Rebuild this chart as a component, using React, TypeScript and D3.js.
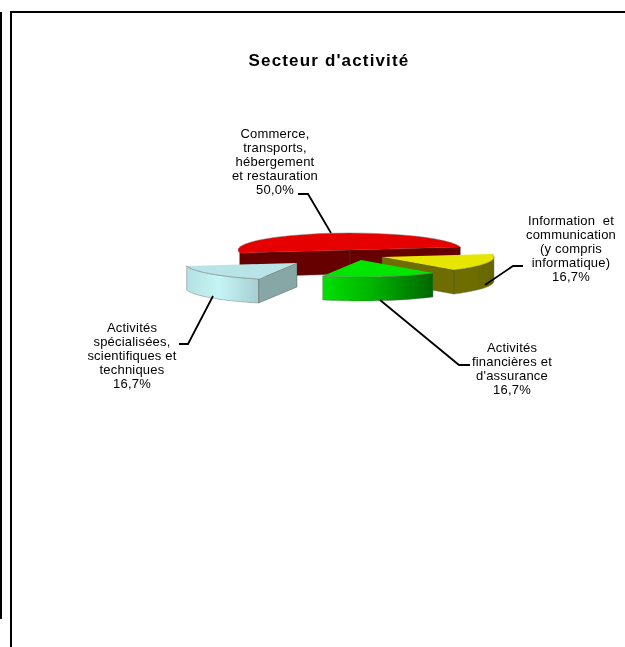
import React from "react";
import * as d3 from "d3";

const categories = ["Commerce, transports, hébergement et restauration", "Information et communication (y compris informatique)", "Activités financières et d'assurance", "Activités spécialisées, scientifiques et techniques"];
const values = [50.0, 16.67, 16.67, 16.67];
const labelLines = [
  ["Commerce,", "transports,", "hébergement", "et restauration", "50,0%"],
  ["Information  et", "communication", "(y compris", "informatique)", "16,7%"],
  ["Activités", "financières et", "d'assurance", "16,7%"],
  ["Activités", "spécialisées,", "scientifiques et", "techniques", "16,7%"],
];
const labelAnchors = [[275, 138], [571, 225], [512, 352], [132, 332]];
const topColours = ["#e60000", "#e6e600", "#00e600", "#b8e4e8"];
const cutColours = ["#660000", "#6e6e00", "#006a00", "#87a6a6"];
const wallStops = [
  ["#660000", "#660000", "#660000"],
  ["#6e6e00", "#6e6e00", "#666600"],
  ["#00e000", "#00b400", "#006600"],
  ["#b4e0e2", "#c6f5f5", "#a6ced2"],
];
const apexes = [[350, 250], [382, 257], [361, 260], [297, 263]];
const leaders = [
  [[298, 194], [308, 194], [331, 233]],
  [[485, 285], [513, 266], [523, 266]],
  [[380, 300], [459, 365], [470, 365]],
  [[213, 296], [188, 344], [179, 344]],
];

const RX = 112, RY = 17, DEPTH = 24;
const START = (80 * Math.PI) / 180;

const pie = d3.pie<number>().sort(null).startAngle(START).endAngle(START + 2 * Math.PI);
const order = [1, 2, 3, 0];
const arcsRaw = pie(order.map((i) => values[i]));
const slices = order.map((idx, k) => ({ idx, start: arcsRaw[k].startAngle, end: arcsRaw[k].endAngle }));

function pt(a: number, apex: number[], dy = 0): [number, number] {
  return [apex[0] + RX * Math.sin(a), apex[1] - RY * Math.cos(a) + dy];
}
const line = d3.line();
const angleSteps = (s: number, e: number) => d3.range(0, 25).map((i) => s + ((e - s) * i) / 24);

export default function App() {
  const arc = d3.arc();
  const paint = [0, 1, 2, 3].map((i) => slices.find((s) => s.idx === i)!);
  return (
    <svg width={625} height={647} style={{ position: "absolute", left: 0, top: 0 }} fontFamily="'Liberation Sans', Arial, sans-serif">
      <defs>
        <filter id="soft" x="-5%" y="-5%" width="110%" height="110%">
          <feGaussianBlur stdDeviation="0.45" />
        </filter>
        <filter id="softText" x="-5%" y="-5%" width="110%" height="110%">
          <feGaussianBlur stdDeviation="0.3" />
        </filter>
        {wallStops.map((st, i) => (
          <linearGradient key={i} id={`wall${i}`} x1="0" x2="1" y1="0" y2="0">
            <stop offset="0" stopColor={st[0]} />
            <stop offset="0.45" stopColor={st[1]} />
            <stop offset="1" stopColor={st[2]} />
          </linearGradient>
        ))}
      </defs>
      <rect x={0} y={12} width={2} height={607} fill="#000" />
      <rect x={10} y={11} width={2} height={636} fill="#000" />
      <rect x={10} y={11} width={615} height={2} fill="#000" />
      <text x={329} y={66} textAnchor="middle" fontSize={17} fontWeight="bold" letterSpacing={1.15} filter="url(#softText)">Secteur d'activité</text>

      <g filter="url(#soft)">
        {paint.map((s) => {
          const apex = apexes[s.idx];
          const a0 = s.start, a1 = s.end;
          const outerTop = angleSteps(a0, a1).map((a) => pt(a, apex));
          const visible = angleSteps(Math.max(a0, Math.PI / 2), Math.min(a1, (3 * Math.PI) / 2));
          const wall = [...visible.map((a) => pt(a, apex)), ...visible.slice().reverse().map((a) => pt(a, apex, DEPTH))];
          const cut = (a: number) => {
            const p = pt(a, apex);
            return [apex, p, [p[0], p[1] + DEPTH], [apex[0], apex[1] + DEPTH]] as [number, number][];
          };
          const showStart = Math.cos(a0 - Math.PI / 2) < 0;
          const showEnd = Math.cos(a1 + Math.PI / 2) < 0;
          const top = arc({ innerRadius: 0, outerRadius: RX, startAngle: a0, endAngle: a1 } as any);
          return (
            <g key={s.idx}>
              {s.idx !== 0 && <path d={line(wall as [number, number][])! + "Z"} fill={`url(#wall${s.idx})`} stroke="#666" strokeWidth={0.4} />}
              {showStart && <path d={line(cut(a0))! + "Z"} fill={cutColours[s.idx]} stroke="#444" strokeWidth={0.4} />}
              {showEnd && <path d={line(cut(a1))! + "Z"} fill={cutColours[s.idx]} stroke="#444" strokeWidth={0.4} />}
              <g transform={`translate(${apex[0]},${apex[1]}) scale(1,${RY / RX})`}>
                <path d={top!} fill={topColours[s.idx]} />
              </g>
              <path d={line(outerTop)!} fill="none" stroke="#777" strokeWidth={0.5} />
            </g>
          );
        })}
      </g>

      {leaders.map((l, i) => (
        <path key={i} d={line(l as [number, number][])!} fill="none" stroke="#000" strokeWidth={1.8} />
      ))}
      <g filter="url(#softText)">
        {labelLines.map((lines, i) => (
          <text key={i} textAnchor="middle" fontSize={13} letterSpacing={0.2} fill="#000" style={{ whiteSpace: "pre" }}>
            {lines.map((t, j) => (
              <tspan key={j} x={labelAnchors[i][0]} y={labelAnchors[i][1] + j * 14}>{t}</tspan>
            ))}
          </text>
        ))}
      </g>
    </svg>
  );
}
